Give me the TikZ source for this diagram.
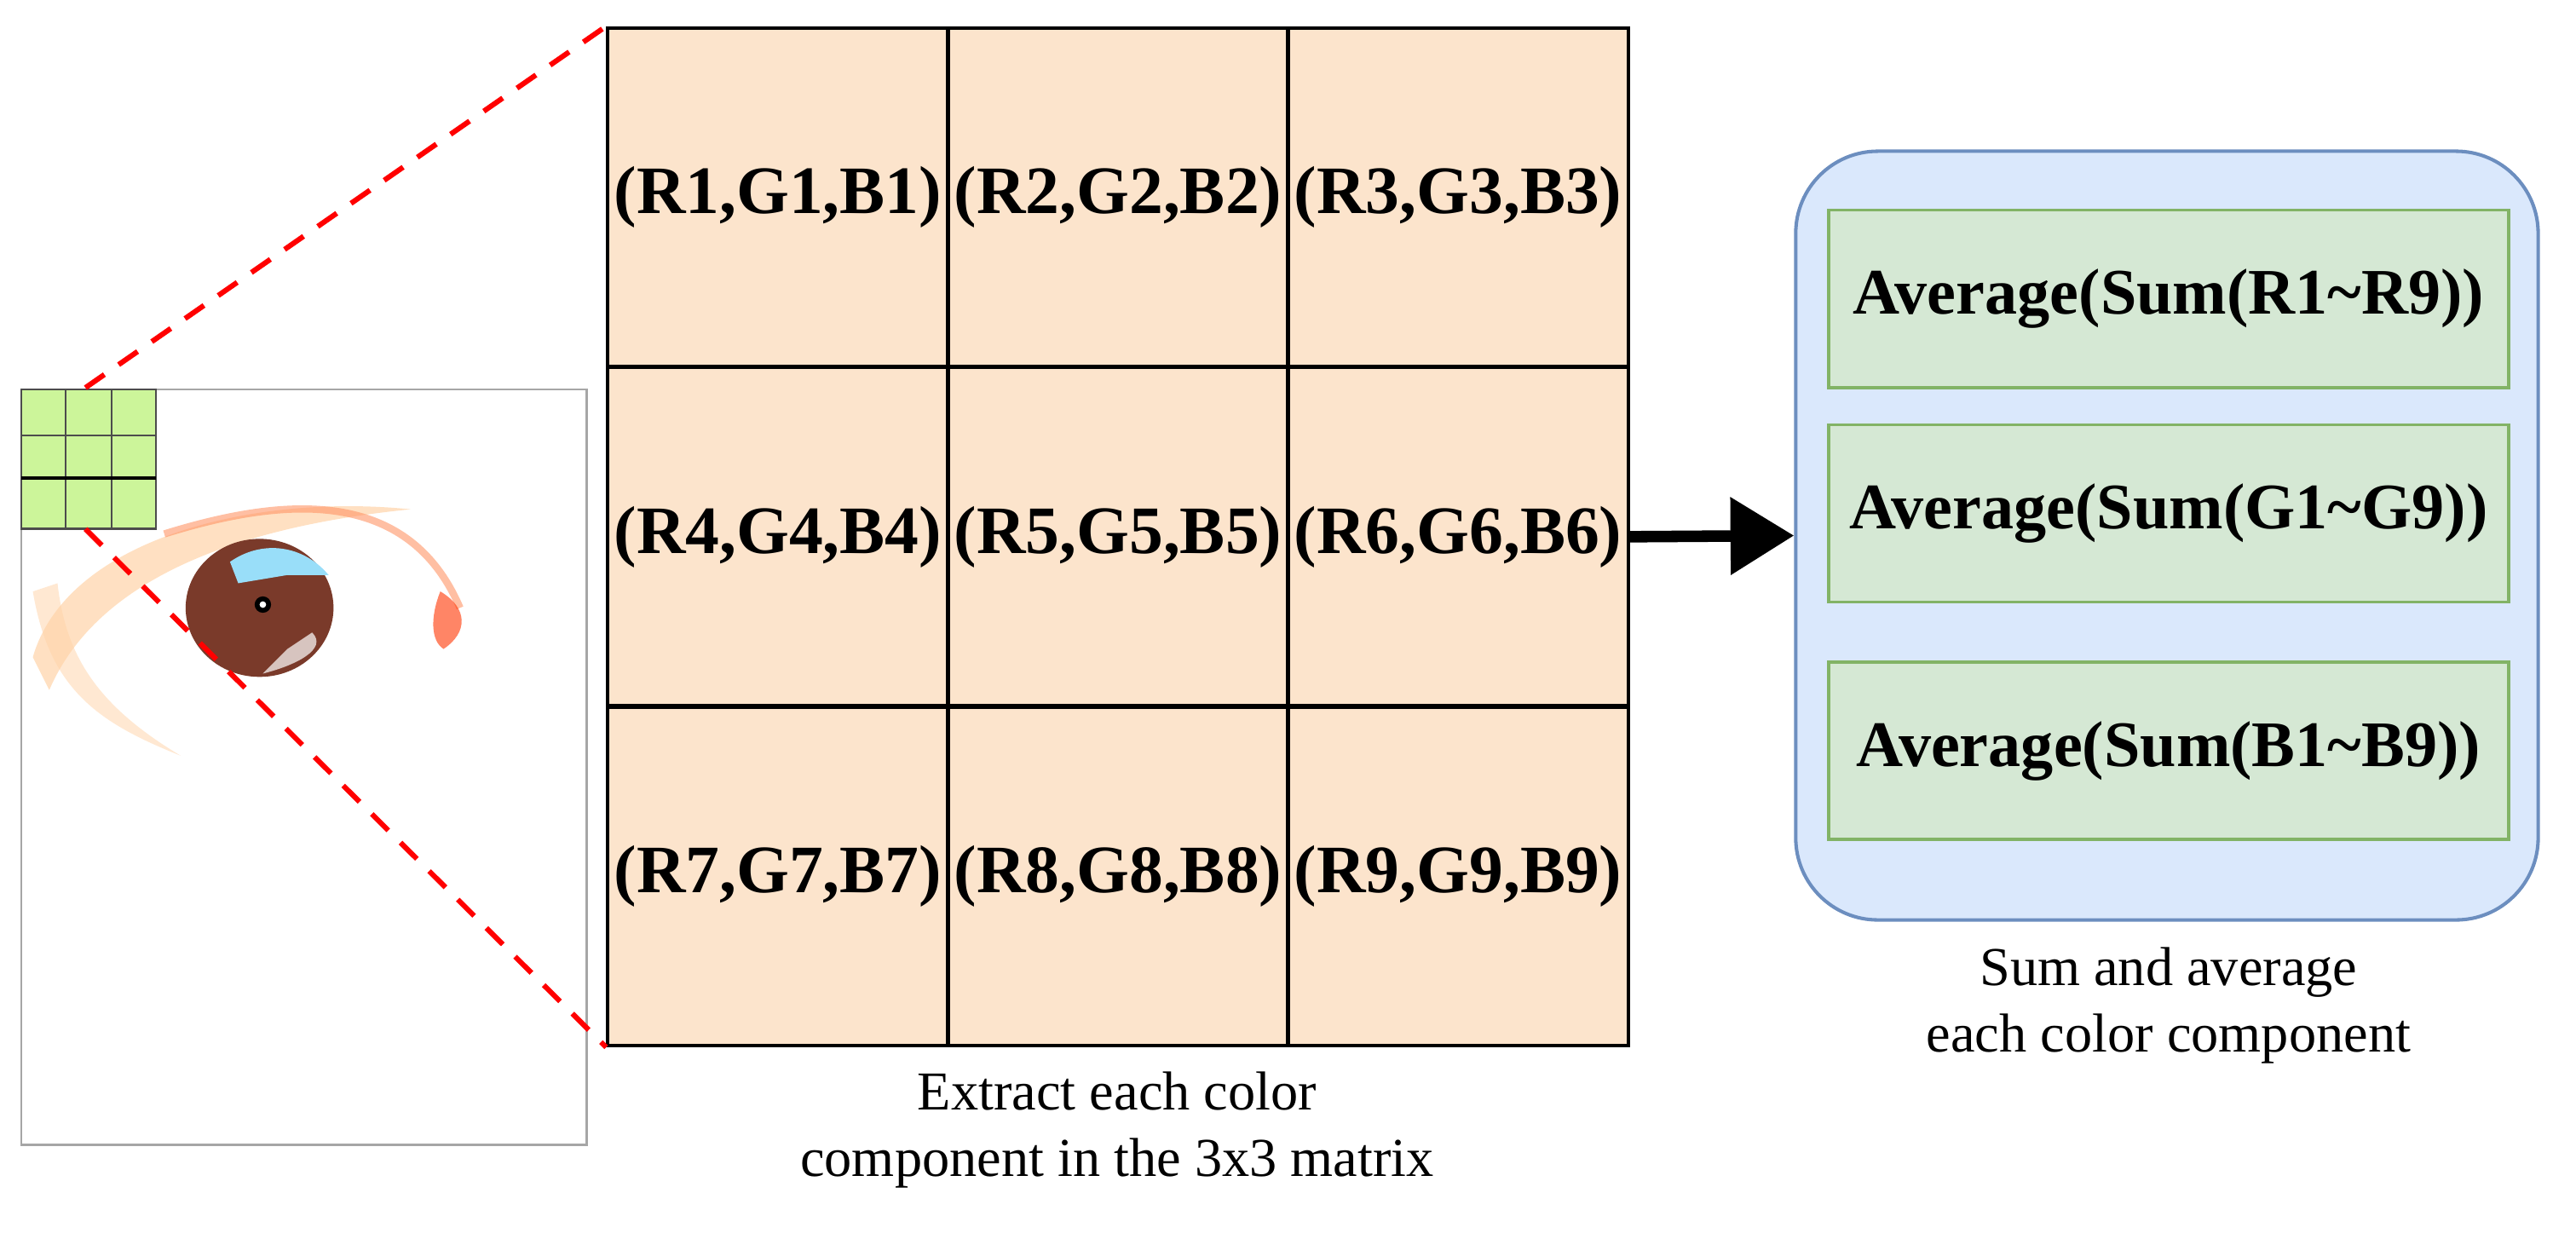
\documentclass[tikz,border=0pt]{standalone}
\usepackage{fontspec}
\setmainfont{Liberation Serif}
\usetikzlibrary{arrows.meta}
\begin{document}
\begin{tikzpicture}[x=0.02cm,y=-0.02cm,
  cell/.style={draw=black,line width=1.2pt,fill=peach,minimum width=4.14cm,minimum height=4.12cm,inner sep=0pt,font=\fontsize{23.5}{27}\selectfont\bfseries},
  avg/.style={draw=avgline,line width=1pt,fill=avgfill,minimum width=8.28cm,minimum height=2.16cm,inner sep=0pt,font=\fontsize{22.5}{26}\selectfont\bfseries},
  captxt/.style={align=center,font=\fontsize{19}{23}\selectfont},
  reddash/.style={red,line width=1.8pt,dash pattern=on 8pt off 6pt}]
\definecolor{peach}{HTML}{FCE4CC}
\definecolor{avgfill}{HTML}{D5E8D4}
\definecolor{avgline}{HTML}{82B366}
\definecolor{bluefill}{HTML}{DAE8FC}
\definecolor{blueline}{HTML}{6C8EBF}
\definecolor{gridgreen}{HTML}{CCF59A}
\definecolor{iris}{HTML}{7A3A2A}
\useasboundingbox (0,0) rectangle (1568,754);
% eye image
\draw[gray!70,line width=0.8pt] (13,237) rectangle (357,697);
\fill[orange!40,opacity=0.6] (20,400) .. controls (40,330) and (150,300) .. (250,310) .. controls (150,320) and (60,350) .. (30,420) -- cycle;
\fill[orange!35,opacity=0.5] (20,360) .. controls (30,420) and (60,440) .. (110,460) .. controls (60,430) and (40,400) .. (35,355) -- cycle;
\draw[orange!60!red!60,line width=2.5pt,opacity=0.6] (100,325) .. controls (180,300) and (250,300) .. (280,370);
\fill[red!60!orange,opacity=0.6] (268,360) .. controls (285,370) and (285,385) .. (270,395) .. controls (262,390) and (262,375) .. (268,360) -- cycle;
\fill[iris] (158,370) circle (45 and 42);
\fill[cyan!40] (140,342) .. controls (160,328) and (185,332) .. (200,350) -- (175,350) -- (145,355) -- cycle;
\fill[white,opacity=0.7] (190,385) .. controls (200,395) and (180,405) .. (160,410) -- (175,395) -- cycle;
\fill[black] (160,368) circle (5);
\fill[white] (160,368) circle (2);
% green grid
\node[draw=black!70,fill=gridgreen,minimum width=1.64cm,minimum height=1.7cm,inner sep=0pt,line width=0.8pt] (grid) at (54,279.5) {};
\draw[black!70,line width=0.8pt] (40,237) -- (40,322) (68,237) -- (68,322) (13,265) -- (95,265);
\draw[black,line width=1.2pt] (13,291) -- (95,291);
% matrix
\foreach \r in {1,2,3}{\foreach \c in {1,2,3}{
  \pgfmathtruncatemacro{\k}{3*(\r-1)+\c}
  \node[cell] (m\r\c) at ({370+103.5+207*(\c-1)},{17+103+206.7*(\r-1)}) {(R\k,G\k,B\k)};}}
\coordinate (gtl) at (52,236);
\coordinate (gbl) at (52,322);
\draw[reddash] (gtl) -- (m11.north west);
\draw[reddash] (gbl) -- (m31.south west);
\node[captxt] (cap1) at (680,688) {Extract each color\\component in the 3x3 matrix};
% blue container
\node[draw=blueline,fill=bluefill,line width=1.2pt,rounded corners=1cm,minimum width=9.04cm,minimum height=9.36cm,inner sep=0pt] (box) at (1319,326) {};
\node[avg] (a1) at (1320,182) {Average(Sum(R1\textasciitilde R9))};
\node[avg] (a2) at (1320,312.5) {Average(Sum(G1\textasciitilde G9))};
\node[avg] (a3) at (1320,457) {Average(Sum(B1\textasciitilde B9))};
\draw[line width=4pt,-{Triangle[length=22pt,width=26pt]}] (m23.east) -- (box.west);
\node[captxt] (cap2) at (1320,612) {Sum and average\\each color component};
\end{tikzpicture}
\end{document}
